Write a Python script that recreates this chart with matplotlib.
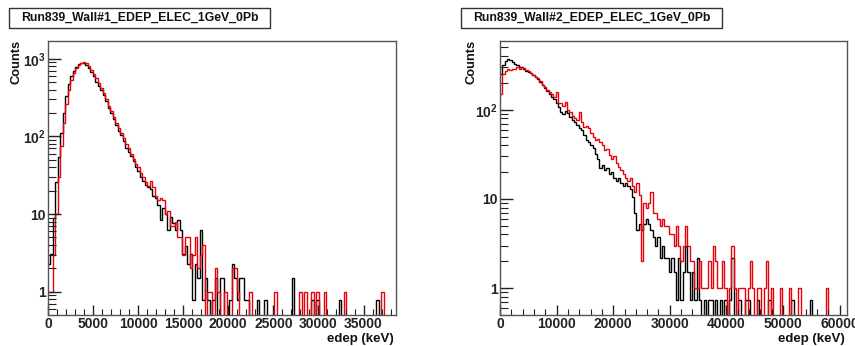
import numpy as np
import matplotlib
matplotlib.use("Agg")
import matplotlib.pyplot as plt
from matplotlib.patches import Rectangle
from matplotlib.ticker import FixedLocator, FixedFormatter, MultipleLocator

plt.rcParams['font.family'] = ['Liberation Sans', 'DejaVu Sans']
plt.rcParams['mathtext.fontset'] = 'custom'
plt.rcParams['mathtext.rm'] = 'Liberation Sans:bold'
plt.rcParams['mathtext.bf'] = 'Liberation Sans:bold'

# ---------------- data ----------------
titles = ["Run839_Wall#1_EDEP_ELEC_1GeV_0Pb", "Run839_Wall#2_EDEP_ELEC_1GeV_0Pb"]
x_label = "edep (keV)"
y_label = "Counts"

# Wall #1 : 140 bins over 0 - 38600 keV
w1_range = (0, 38600)
w1_black = [2.3, 3.1, 9, 26, 55, 110, 200, 330, 480, 600,
            690, 790, 850, 890, 880, 840, 770, 680, 600, 510,
            450, 395, 340, 285, 235, 200, 170, 140, 118, 105,
            88, 72, 63, 56, 48, 40, 36, 30, 27, 24,
            22, 21, 17, 16, 13, 8.5, 12, 10, 6.2, 9.3,
            7.7, 6.2, 8.5, 6.2, 3.1, 3.9, 2.3, 3.1, 0.77, 2.3,
            1.5, 6.2, 0.77, 1.5, 0.77, 0, 0.77, 1.5, 0, 1.5,
            1.5, 0, 0, 0.77, 2.3, 1.5, 0.77, 1.5, 1.5, 0.77,
            0.77, 0, 0, 0, 0.77, 0, 0, 0.77, 0, 0,
            0, 0, 0, 0, 0, 0, 0, 0, 1.5, 0,
            0, 0, 0, 0, 0, 0, 0.77, 0, 0.77, 0,
            0, 0, 0, 0, 0, 0, 0, 0.77, 0, 0,
            0, 0, 0, 0, 0, 0, 0, 0, 0, 0,
            0, 0, 0.77, 0, 0, 0, 0, 0, 0, 0]
w1_red = [1, 1, 3, 10, 30, 75, 150, 260, 400, 540,
          660, 770, 840, 880, 900, 880, 810, 720, 640, 560,
          490, 420, 360, 300, 250, 210, 180, 150, 128, 110,
          95, 80, 70, 60, 52, 44, 40, 34, 30, 26,
          23, 27, 22, 17, 15, 16, 15, 10, 11, 7,
          7, 8, 5, 5, 3, 5, 5, 2, 3, 5,
          2, 3, 4, 0, 1, 1, 0, 2, 1, 0,
          0, 1, 0, 0, 2, 2, 1, 0, 0, 0,
          0, 1, 0, 0, 0, 0, 0, 0, 0, 0,
          0, 1, 0, 0, 0, 0, 0, 0, 0, 0,
          0, 1, 0, 1, 0, 0, 1, 0, 1, 0,
          0, 1, 0, 0, 0, 0, 0, 0, 0, 1,
          0, 0, 0, 0, 0, 0, 0, 0, 0, 0,
          0, 0, 0, 0, 1, 0, 0, 0, 0, 0]

# Wall #2 : 150 bins over 0 - 61300 keV
w2_range = (0, 61300)
w2_black = [250, 320, 350, 370, 360, 345, 330, 315, 305, 298,
            290, 275, 266, 258, 245, 234, 222, 205, 189, 175,
            162, 150, 140, 133, 120, 108, 95, 90, 96, 92,
            82, 77, 72, 67, 62, 59, 52, 46, 43, 40,
            37, 32, 28, 22, 24, 21, 22, 19, 20, 17,
            16, 17, 15, 14, 15, 14, 13, 10.5, 7, 4.5,
            5.2, 4.5, 5.2, 6, 5.2, 4.5, 3.7, 3, 3.7, 2.2,
            3, 2.2, 2.2, 1.5, 2.2, 1.5, 0.74, 2.2, 0.74, 1.5,
            3, 1.5, 0.74, 1.5, 0.74, 2.2, 0.74, 0, 0.74, 0,
            0.74, 0.74, 0, 0.74, 0, 0.74, 0, 0.74, 0, 0.74,
            2.2, 0, 0, 0.74, 0, 0, 0.74, 0.74, 0, 0,
            0, 0.74, 0, 0, 0, 0, 0.74, 0, 0, 0,
            0, 0, 0, 0, 0, 0, 0.74, 0, 0, 0,
            0, 0, 0, 0, 0.74, 0, 0, 0, 0, 0,
            0, 0, 0, 0, 0, 0, 0, 0, 0, 0]
w2_red = [150, 250, 275, 290, 280, 285, 290, 300, 290, 303,
          295, 280, 270, 255, 244, 232, 225, 210, 189, 180,
          167, 160, 152, 140, 160, 120, 118, 110, 121, 100,
          94, 86, 80, 77, 95, 72, 64, 66, 62, 55,
          50, 46, 47, 44, 40, 35, 36, 31, 28, 30,
          25, 23, 21, 19, 17, 16, 17, 14, 12, 15,
          11, 2, 9, 8, 9, 12, 7, 7, 6, 5,
          6, 5, 5, 4, 4, 3, 5, 3, 2, 3,
          5, 3, 2, 2, 1, 1, 2, 1, 1, 1,
          2, 1, 3, 2, 1, 1, 2, 1, 0, 1,
          3, 1, 0, 1, 1, 1, 0, 1, 2, 1,
          0, 1, 1, 0, 1, 2, 0, 1, 0, 0,
          0, 1, 0, 0, 0, 1, 0, 0, 0, 1,
          0, 0, 0, 0, 0, 0, 0, 0, 0, 0,
          0, 1, 0, 0, 0, 0, 0, 0, 0, 0]

# ---------------- figure ----------------
W, H = 855, 346
fig = plt.figure(figsize=(W / 100, H / 100), dpi=100)


def fx(px):
    return px / W


def fy(py):
    return 1 - py / H


panels = [
    dict(title=titles[0], rng=w1_range, black=w1_black, red=w1_red,
         ax_px=(48, 41, 396, 315), box_px=(9, 8, 270, 28),
         major=5000, minor=1000, ymax=1700,
         yt=[1, 10, 100, 1000], ytl=['1', '10', r'$10^{2}$', r'$10^{3}$'],
         counts_x=17),
    dict(title=titles[1], rng=w2_range, black=w2_black, red=w2_red,
         ax_px=(500, 41, 847, 315), box_px=(461, 8, 722, 28),
         major=10000, minor=2000, ymax=590,
         yt=[1, 10, 100], ytl=['1', '10', r'$10^{2}$'],
         counts_x=471),
]

for p in panels:
    l, t, r, b = p['ax_px']
    ax = fig.add_axes([fx(l), fy(b), fx(r - l), (b - t) / H])
    for vals, col in ((p['black'], 'black'), (p['red'], '#e8000b')):
        v = np.asarray(vals, dtype=float)
        edges = np.linspace(p['rng'][0], p['rng'][1], len(v) + 1)
        v = np.where(v > 0, v, 1e-3)
        ax.stairs(v, edges, baseline=None, color=col, lw=1.0)
    ax.set_yscale('log')
    ax.set_xlim(*p['rng'])
    ax.set_ylim(0.5, p['ymax'])
    ax.xaxis.set_major_locator(MultipleLocator(p['major']))
    ax.xaxis.set_minor_locator(MultipleLocator(p['minor']))
    ax.yaxis.set_major_locator(FixedLocator(p['yt']))
    ax.yaxis.set_major_formatter(FixedFormatter(p['ytl']))
    minors = [m * 10 ** e for e in range(-1, 4) for m in range(2, 10)]
    ax.yaxis.set_minor_locator(FixedLocator(minors))
    ax.yaxis.set_minor_formatter(FixedFormatter([''] * len(minors)))
    ax.tick_params(which='both', direction='in', top=False, right=False,
                   colors='#222222', labelsize=10)
    ax.tick_params(which='major', length=7, width=1)
    ax.tick_params(which='minor', length=4, width=0.8)
    ax.tick_params(axis='y', which='major', length=9, pad=1.5)
    ax.tick_params(axis='y', which='minor', length=6)
    ax.tick_params(axis='x', which='major', pad=1.5)
    for lab in ax.get_xticklabels() + ax.get_yticklabels():
        lab.set_fontweight('bold')
    for s in ax.spines.values():
        s.set_color('#555555')
        s.set_linewidth(1.0)
    # x label, right aligned
    fig.text(fx(r - 2), fy(339), x_label, ha='right', va='center',
             fontsize=9.5, fontweight='bold', color='#111111')
    # y label, top aligned
    fig.text(fx(p['counts_x']), fy(t - 1), y_label, ha='center', va='top',
             rotation=90, fontsize=9.3, fontweight='bold', color='#111111')
    # title box
    bl, bt, br, bb = p['box_px']
    fig.patches.append(Rectangle((fx(bl), fy(bb)), fx(br - bl), (bb - bt) / H,
                                 transform=fig.transFigure, fill=False,
                                 edgecolor='#333333', lw=1.0))
    fig.text(fx((bl + br) / 2), fy((bt + bb) / 2), p['title'], ha='center',
             va='center', fontsize=8.8, fontweight='bold', color='#111111')

fig.savefig('out.png', dpi=100)
